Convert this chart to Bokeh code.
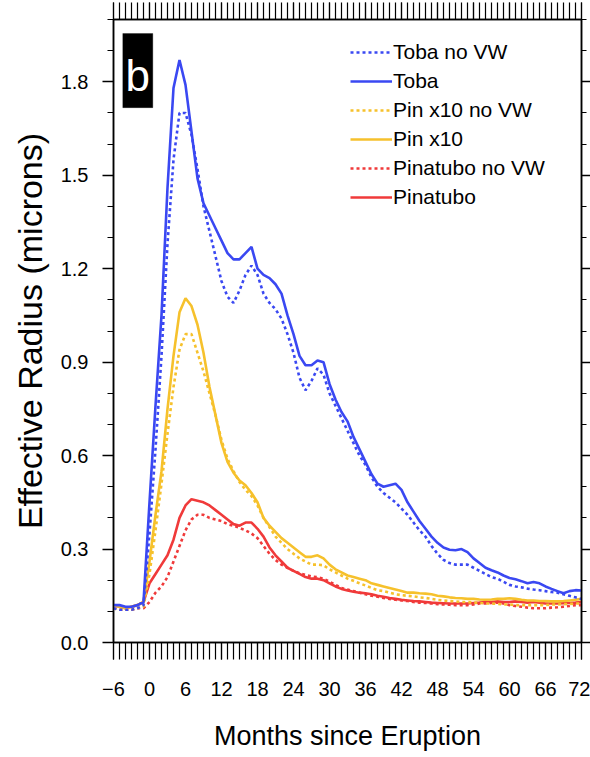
from bokeh.plotting import figure
from bokeh.models import (FixedTicker, LinearAxis, Range1d, Legend, LegendItem,
                          BoxAnnotation, Label, PrintfTickFormatter)
from bokeh.embed import file_html
from bokeh.resources import INLINE

# ---------------- data ----------------
months = list(range(-6, 73))

toba_novw = [0.11, 0.105, 0.105, 0.105, 0.11, 0.12,
             0.35, 0.62, 0.92, 1.28, 1.55, 1.70, 1.70, 1.63, 1.52, 1.40,
             1.32, 1.24, 1.16, 1.11, 1.09, 1.13, 1.18, 1.21, 1.18, 1.12,
             1.09, 1.07, 1.04, 0.99, 0.93, 0.85, 0.81, 0.84, 0.88, 0.86,
             0.80, 0.76, 0.72, 0.68, 0.64, 0.60, 0.57, 0.53, 0.50, 0.48,
             0.465, 0.45, 0.43, 0.41, 0.385, 0.36, 0.34, 0.31, 0.285, 0.265,
             0.255, 0.25, 0.25, 0.25, 0.24, 0.23, 0.22, 0.21, 0.205, 0.195,
             0.185, 0.18, 0.177, 0.173, 0.17, 0.168, 0.165, 0.162, 0.16, 0.155,
             0.15, 0.145, 0.14]

toba = [0.12, 0.12, 0.115, 0.115, 0.12, 0.13,
        0.45, 0.76, 1.05, 1.46, 1.78, 1.87, 1.79, 1.64, 1.49, 1.41,
        1.37, 1.33, 1.29, 1.25, 1.23, 1.23, 1.25, 1.27, 1.20, 1.18,
        1.17, 1.15, 1.12, 1.05, 0.99, 0.92, 0.89, 0.89, 0.905, 0.90,
        0.83, 0.78, 0.74, 0.71, 0.66, 0.62, 0.58, 0.54, 0.51, 0.50,
        0.505, 0.51, 0.49, 0.45, 0.42, 0.39, 0.365, 0.34, 0.32, 0.305,
        0.298, 0.296, 0.30, 0.29, 0.27, 0.255, 0.24, 0.232, 0.225, 0.215,
        0.207, 0.203, 0.197, 0.19, 0.194, 0.19, 0.18, 0.172, 0.165, 0.158,
        0.165, 0.168, 0.167]

pin10_novw = [0.11, 0.105, 0.105, 0.105, 0.11, 0.115,
              0.22, 0.36, 0.51, 0.67, 0.82, 0.94, 0.99, 0.99, 0.93, 0.87,
              0.80, 0.73, 0.65, 0.59, 0.55, 0.515, 0.49, 0.47, 0.44, 0.40,
              0.37, 0.34, 0.32, 0.30, 0.285, 0.27, 0.26, 0.25, 0.25, 0.248,
              0.235, 0.225, 0.215, 0.205, 0.198, 0.19, 0.183, 0.175, 0.168, 0.165,
              0.16, 0.155, 0.152, 0.15, 0.148, 0.145, 0.143, 0.14, 0.137, 0.135,
              0.133, 0.132, 0.13, 0.13, 0.128, 0.127, 0.125, 0.125, 0.124, 0.122,
              0.122, 0.12, 0.12, 0.12, 0.12, 0.12, 0.12, 0.122, 0.122, 0.123,
              0.124, 0.125, 0.125]

pin10 = [0.12, 0.115, 0.11, 0.115, 0.12, 0.13,
         0.26, 0.41, 0.55, 0.75, 0.92, 1.06, 1.105, 1.08, 1.02, 0.93,
         0.82, 0.73, 0.64, 0.58, 0.545, 0.52, 0.505, 0.48, 0.45, 0.40,
         0.375, 0.355, 0.335, 0.32, 0.305, 0.29, 0.275, 0.275, 0.28, 0.27,
         0.25, 0.235, 0.225, 0.215, 0.21, 0.205, 0.20, 0.19, 0.185, 0.18,
         0.175, 0.17, 0.165, 0.16, 0.16, 0.158, 0.157, 0.155, 0.15, 0.148,
         0.145, 0.143, 0.142, 0.14, 0.14, 0.138, 0.137, 0.138, 0.14, 0.14,
         0.142, 0.14, 0.137, 0.135, 0.135, 0.133, 0.133, 0.132, 0.132, 0.133,
         0.135, 0.137, 0.14]

pina_novw = [0.11, 0.105, 0.105, 0.105, 0.11, 0.11,
             0.13, 0.16, 0.18, 0.21, 0.26, 0.31, 0.36, 0.395, 0.41, 0.41,
             0.40, 0.395, 0.39, 0.38, 0.375, 0.368, 0.36, 0.35, 0.335, 0.31,
             0.285, 0.265, 0.25, 0.24, 0.23, 0.222, 0.217, 0.212, 0.21, 0.205,
             0.195, 0.185, 0.175, 0.17, 0.165, 0.16, 0.155, 0.15, 0.147, 0.143,
             0.14, 0.137, 0.135, 0.133, 0.13, 0.128, 0.127, 0.125, 0.123, 0.122,
             0.121, 0.12, 0.12, 0.12, 0.122, 0.125, 0.125, 0.127, 0.128, 0.125,
             0.12, 0.117, 0.115, 0.112, 0.11, 0.11, 0.11, 0.112, 0.113, 0.115,
             0.117, 0.12, 0.12]

pina = [0.12, 0.115, 0.11, 0.115, 0.12, 0.13,
        0.19, 0.22, 0.25, 0.28, 0.33, 0.40, 0.44, 0.46, 0.455, 0.45,
        0.44, 0.425, 0.41, 0.395, 0.38, 0.375, 0.385, 0.385, 0.365, 0.34,
        0.305, 0.28, 0.26, 0.24, 0.23, 0.22, 0.21, 0.205, 0.205, 0.20,
        0.19, 0.18, 0.172, 0.167, 0.163, 0.16, 0.158, 0.155, 0.15, 0.147,
        0.143, 0.14, 0.137, 0.135, 0.133, 0.132, 0.13, 0.128, 0.127, 0.126,
        0.125, 0.125, 0.125, 0.125, 0.127, 0.128, 0.13, 0.13, 0.132, 0.13,
        0.13, 0.132, 0.13, 0.128, 0.13, 0.128, 0.125, 0.125, 0.125, 0.126,
        0.127, 0.128, 0.13]

series_labels = ["Toba no VW", "Toba", "Pin x10 no VW", "Pin x10",
                 "Pinatubo no VW", "Pinatubo"]

x_major_ticks = [-6, 0, 6, 12, 18, 24, 30, 36, 42, 48, 54, 60, 66, 72]
y_major_ticks = [0.0, 0.3, 0.6, 0.9, 1.2, 1.5, 1.8]
y_minor_ticks = [0.0, 0.1, 0.2, 0.3, 0.4, 0.5, 0.6, 0.7, 0.8, 0.9, 1.0,
                 1.1, 1.2, 1.3, 1.4, 1.5, 1.6, 1.7, 1.8, 1.9, 2.0]

# ---------------- style ----------------
FONT = "Liberation Sans"
BLUE = "#3a48f2"
GOLD = "#f6c12c"
RED = "#f03a3a"

p = figure(width=590, height=757, output_backend="svg", toolbar_location=None,
           x_range=Range1d(-6, 72), y_range=Range1d(0, 2.0),
           min_border_left=113, min_border_right=9,
           min_border_top=19, min_border_bottom=115)
p.grid.visible = False
p.outline_line_color = "black"
p.outline_line_width = 1.5
p.background_fill_color = "white"
p.border_fill_color = "white"

xt = FixedTicker(ticks=x_major_ticks, minor_ticks=months)
yt = FixedTicker(ticks=y_major_ticks, minor_ticks=y_minor_ticks)

xa = p.xaxis[0]
xa.ticker = xt
xa.axis_label = "Months since Eruption"
xa.axis_label_text_font = FONT
xa.axis_label_text_font_size = "27px"
xa.axis_label_text_font_style = "normal"
xa.axis_label_text_color = "black"
xa.axis_label_standoff = 22
xa.major_label_text_font = FONT
xa.major_label_text_font_size = "20px"
xa.major_label_text_color = "black"
xa.major_label_standoff = 22
xa.major_tick_out = 17
xa.major_tick_in = 0
xa.minor_tick_out = 17
xa.minor_tick_in = 0
xa.axis_line_width = 1.5
xa.major_tick_line_width = 1.2
xa.minor_tick_line_width = 1.2

ya = p.yaxis[0]
ya.ticker = yt
ya.formatter = PrintfTickFormatter(format="%.1f")
ya.axis_label = "Effective Radius (microns)"
ya.axis_label_text_font = FONT
ya.axis_label_text_font_size = "34px"
ya.axis_label_text_font_style = "normal"
ya.axis_label_text_color = "black"
ya.axis_label_standoff = 9
ya.major_label_text_font = FONT
ya.major_label_text_font_size = "20px"
ya.major_label_text_color = "black"
ya.major_label_standoff = 14
ya.major_tick_out = 11
ya.major_tick_in = 0
ya.minor_tick_out = 6
ya.minor_tick_in = 0
ya.axis_line_width = 1.5
ya.major_tick_line_width = 1.5
ya.minor_tick_line_width = 1.2

top = LinearAxis(ticker=xt, major_label_text_color=None,
                 major_label_standoff=0, major_tick_out=17, major_tick_in=0,
                 minor_tick_out=17, minor_tick_in=0, axis_line_width=1.5,
                 major_tick_line_width=1.2, minor_tick_line_width=1.2)
p.add_layout(top, "above")
right = LinearAxis(ticker=yt, major_label_text_color=None,
                   major_label_standoff=0, major_tick_out=9, major_tick_in=0,
                   minor_tick_out=5, minor_tick_in=0, axis_line_width=1.5,
                   major_tick_line_width=1.5, minor_tick_line_width=1.2)
p.add_layout(right, "right")

# ---------------- lines ----------------
specs = [(toba_novw, BLUE, "3 3"), (toba, BLUE, "solid"),
         (pin10_novw, GOLD, "3 3"), (pin10, GOLD, "solid"),
         (pina_novw, RED, "3 3"), (pina, RED, "solid")]
draw_order = [5, 4, 3, 2, 1, 0]
renderers = {}
for i in draw_order:
    vals, col, dash = specs[i]
    renderers[i] = p.line(months, vals, line_color=col, line_width=2.6,
                          line_dash=dash)

items = [LegendItem(label=series_labels[i], renderers=[renderers[i]])
         for i in range(6)]
legend = Legend(items=items, location=(237, 433),
                label_text_font=FONT, label_text_font_size="21px",
                label_text_color="black",
                glyph_width=42, glyph_height=24, label_height=24,
                label_standoff=1, spacing=5, padding=0, margin=0,
                border_line_alpha=0, background_fill_alpha=0)
p.add_layout(legend)

# ---------------- panel label ----------------
p.add_layout(BoxAnnotation(left=-4.45, right=0.55, bottom=1.717, top=1.955,
                           fill_color="black", fill_alpha=1.0,
                           line_color="black"))
p.add_layout(Label(x=-1.95, y=1.82, text="b", text_color="white",
                   text_font=FONT, text_font_size="44px",
                   text_align="center", text_baseline="middle"))

open("out.html", "w").write(file_html(p, INLINE))
